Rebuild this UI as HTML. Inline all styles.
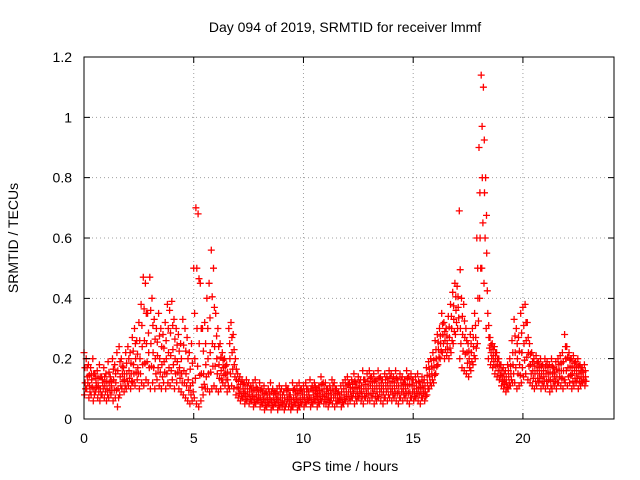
<!DOCTYPE html>
<html><head><meta charset="utf-8"><style>
body{margin:0;background:#fff}
svg{display:block;font-family:"Liberation Sans",sans-serif;font-size:14px}
</style></head><body>
<svg id="chart" width="640" height="480">
<rect width="640" height="480" fill="#fff"/>
<text x="345" y="32" text-anchor="middle">Day 094 of 2019, SRMTID for receiver lmmf</text>
<text x="345" y="471" text-anchor="middle">GPS time / hours</text>
<text transform="translate(18,238) rotate(-90)" text-anchor="middle">SRMTID / TECUs</text>
<g id="grid"></g><g id="pts"></g><g id="axes"></g>
</svg>
<script>
const xTicks=[0,5,10,15,20];
const yTicks=[0,0.2,0.4,0.6,0.8,1,1.2];
const yTickLabels=["0","0.2","0.4","0.6","0.8","1","1.2"];
const tStart=0, tStep=0.1;
const hiVals=[.22,.2,.18,.17,.2,.15,.16,.18,.14,.17,.15,.19,.14,.2,.18,.22,.24,.2,.17,.22,.24,.22,.27,.3,.26,.32,.38,.47,.45,.35,.47,.4,.33,.3,.35,.3,.28,.32,.38,.36,.39,.33,.3,.28,.25,.33,.3,.27,.22,.25,.5,.7,.68,.45,.3,.32,.4,.45,.56,.5,.35,.3,.25,.22,.2,.18,.3,.32,.28,.2,.15,.14,.13,.12,.13,.12,.11,.12,.13,.1,.12,.1,.11,.09,.1,.12,.1,.09,.1,.11,.1,.09,.11,.1,.08,.12,.1,.11,.12,.1,.11,.12,.1,.13,.11,.12,.1,.11,.14,.12,.12,.1,.11,.13,.12,.1,.09,.11,.12,.13,.14,.12,.13,.15,.12,.14,.13,.16,.13,.15,.16,.14,.15,.13,.16,.14,.13,.15,.14,.16,.15,.14,.16,.13,.15,.14,.13,.16,.14,.15,.13,.14,.15,.12,.14,.13,.17,.19,.2,.22,.26,.28,.3,.35,.32,.3,.34,.38,.42,.45,.44,.69,.4,.38,.3,.25,.28,.3,.35,.6,.9,1.14,1.1,.8,.35,.27,.25,.24,.22,.2,.18,.17,.16,.18,.2,.26,.33,.3,.27,.35,.37,.38,.32,.25,.22,.2,.21,.19,.2,.18,.2,.19,.18,.2,.17,.19,.2,.21,.22,.28,.24,.22,.2,.21,.19,.2,.18,.17,.18];
const midVals=[.12,.14,.11,.13,.1,.12,.11,.1,.12,.11,.1,.12,.11,.13,.12,.1,.14,.15,.13,.15,.16,.15,.18,.2,.17,.2,.24,.26,.25,.22,.25,.22,.2,.21,.2,.18,.19,.2,.22,.21,.23,.2,.19,.17,.15,.16,.15,.13,.11,.12,.2,.3,.25,.15,.15,.18,.2,.22,.25,.24,.2,.18,.16,.17,.15,.13,.2,.22,.18,.13,.1,.09,.1,.08,.09,.08,.09,.07,.08,.08,.07,.08,.06,.07,.08,.06,.07,.08,.06,.07,.06,.05,.08,.06,.05,.07,.08,.06,.07,.08,.07,.08,.08,.07,.08,.09,.07,.08,.09,.08,.08,.07,.08,.09,.08,.07,.07,.07,.08,.09,.09,.09,.1,.1,.09,.1,.09,.1,.1,.1,.11,.1,.1,.09,.11,.1,.09,.11,.1,.11,.1,.1,.11,.09,.11,.1,.1,.11,.09,.11,.09,.1,.1,.09,.1,.09,.12,.14,.15,.17,.2,.23,.25,.28,.26,.25,.27,.3,.33,.36,.37,.3,.28,.27,.22,.2,.22,.24,.27,.4,.6,.8,.75,.55,.27,.22,.21,.2,.18,.16,.14,.13,.12,.14,.15,.18,.22,.2,.18,.22,.25,.26,.22,.18,.16,.15,.16,.15,.15,.14,.15,.15,.13,.15,.14,.14,.16,.16,.16,.2,.17,.17,.15,.16,.15,.15,.14,.14,.14];
const loVals=[.08,.1,.07,.08,.06,.09,.07,.06,.08,.07,.06,.07,.08,.06,.07,.04,.08,.1,.09,.1,.11,.1,.12,.11,.13,.1,.12,.11,.13,.12,.1,.12,.1,.13,.11,.1,.12,.1,.12,.11,.13,.1,.12,.1,.09,.08,.07,.06,.05,.06,.07,.05,.04,.06,.08,.1,.1,.09,.1,.11,.1,.09,.1,.12,.11,.09,.1,.11,.1,.08,.07,.06,.07,.05,.06,.05,.06,.04,.05,.06,.04,.05,.03,.04,.05,.03,.04,.05,.03,.04,.04,.03,.05,.04,.03,.04,.05,.03,.04,.05,.04,.05,.06,.04,.05,.06,.04,.05,.06,.05,.05,.04,.06,.05,.04,.05,.06,.04,.05,.06,.05,.06,.07,.05,.06,.07,.06,.05,.07,.06,.06,.07,.05,.06,.07,.06,.05,.07,.06,.07,.06,.07,.06,.05,.07,.06,.07,.06,.05,.07,.06,.07,.06,.05,.07,.06,.08,.1,.11,.12,.15,.18,.2,.22,.2,.21,.2,.22,.25,.28,.3,.2,.17,.16,.15,.14,.16,.18,.2,.25,.4,.5,.45,.3,.2,.18,.17,.15,.14,.13,.11,.1,.09,.1,.11,.12,.12,.1,.11,.12,.14,.15,.13,.12,.11,.1,.11,.12,.1,.11,.1,.11,.09,.1,.11,.1,.12,.11,.1,.12,.11,.12,.1,.11,.12,.1,.11,.12,.11];
const NS='http://www.w3.org/2000/svg';
const L=84,R=614,T=57,B=419,xMax=24.15,yMax=1.2;
const xs=v=>L+(v/xMax)*(R-L), ys=v=>B-(v/yMax)*(B-T);
function mk(tag,attrs,parent){const e=document.createElementNS(NS,tag);for(const k in attrs)e.setAttribute(k,attrs[k]);parent.appendChild(e);return e;}
const grid=document.getElementById('grid'),axes=document.getElementById('axes'),pts=document.getElementById('pts');
xTicks.forEach(t=>{const x=xs(t);
 if(t>0){const g=mk('line',{x1:x,x2:x,y1:T,y2:B,stroke:'#a0a0a0','stroke-dasharray':'1,3'},grid);}
 const tk=mk('path',{d:`M${x},${B}v-6M${x},${T}v6`,stroke:'#000'},axes);
 const lb=mk('text',{x:x,y:B+24,'text-anchor':'middle'},axes);lb.textContent=t;});
yTicks.forEach((t,i)=>{const y=ys(t);
 if(t>0&&t<yMax){const g=mk('line',{x1:L,x2:R,y1:y,y2:y,stroke:'#a0a0a0','stroke-dasharray':'1,3'},grid);}
 const tk=mk('path',{d:`M${L},${y}h6M${R},${y}h-6`,stroke:'#000'},axes);
 const lb=mk('text',{x:L-12,y:y+5,'text-anchor':'end'},axes);lb.textContent=yTickLabels[i];});
const fr=mk('rect',{x:L,y:T,width:R-L,height:B-T,fill:'none',stroke:'#000'},axes);

let d='';
function plus(t,v){const x=xs(t),y=ys(v);d+=`M${(x-3.5).toFixed(1)},${y.toFixed(1)}h7M${x.toFixed(1)},${(y-3.5).toFixed(1)}v7`;}
hiVals.forEach((v,i)=>{const t=tStart+i*tStep;
 plus(t,v); plus(t+0.05,midVals[i]); plus(t+0.025,loVals[i]);
 plus(t+0.075,(loVals[i]+midVals[i])/2); plus(t+0.04,(midVals[i]+v)/2);
});
const p=mk('path',{d:d,stroke:'#ff0000','stroke-width':1.3,fill:'none'},pts);


</script>
</body></html>
